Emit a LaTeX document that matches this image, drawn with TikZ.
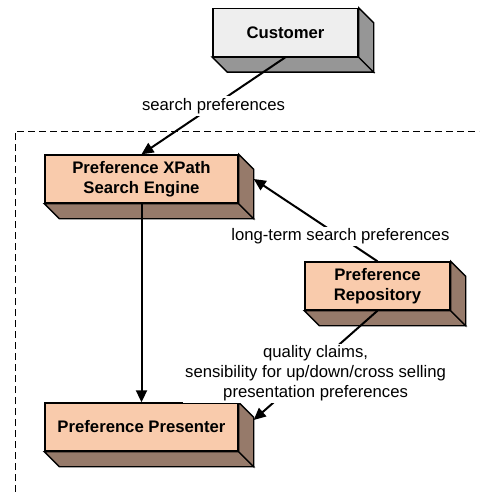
\documentclass[tikz,border=0pt]{standalone}
\usepackage{fontspec}
\setmainfont{Liberation Sans}
\usetikzlibrary{arrows.meta,calc}
\definecolor{salmon}{RGB}{249,203,172}
\definecolor{brownish}{RGB}{150,122,106}
\definecolor{lightgrey}{RGB}{238,238,238}
\definecolor{midgrey}{RGB}{150,150,150}
\tikzset{
  box/.style={draw, line width=0.7pt, fill=salmon, minimum width=96.5pt, minimum height=24pt, inner sep=0pt, align=center, font=\fontsize{8.35}{10}\selectfont\bfseries},
  flow/.style={-{Triangle[length=6pt,width=5.5pt]}, line width=1pt},
  lbl/.style={fill=white, inner sep=1pt, align=center}
}
\newcommand{\slab}[2]{%
  \draw[line width=0.7pt, fill=#2] (#1.south west) -- ++(7.5pt,-7.5pt) -- ($(#1.south east)+(7.5pt,-7.5pt)$) -- (#1.south east) -- cycle;
  \draw[line width=0.7pt, fill=#2] (#1.north east) -- ++(7.5pt,-7.5pt) -- ($(#1.south east)+(7.5pt,-7.5pt)$) -- (#1.south east) -- cycle;
}

\begin{document}
\begin{tikzpicture}[x=0.5pt,y=-0.5pt,font=\fontsize{8.35}{10}\selectfont]
    \useasboundingbox (0,0) rectangle (479,492);
    \draw[dash pattern=on 3.5pt off 2pt, line width=0.5pt] (15,492) -- (15,131) -- (479,131);

    \node[box, fill=lightgrey, minimum width=72.5pt] (cust) at (285.5,32.5) {Customer};
    \slab{cust}{midgrey}
    \node[box] (xpath) at (141.5,179) {Preference XPath\\Search Engine};
    \slab{xpath}{brownish}
    \node[box, minimum width=72.5pt] (repo) at (377.5,286) {Preference\\Repository};
    \slab{repo}{brownish}
    \node[box] (pres) at (141.5,427) {Preference Presenter};
    \slab{pres}{brownish}

    \draw[flow] (cust.south) -- node[lbl] {search preferences} (xpath.north);
    \draw[flow] (repo.north) -- node[lbl, pos=0.3] {long-term search preferences} ([xshift=7.5pt]xpath.east);
    \draw[flow] (xpath.south) -- (pres.north);
    \draw[flow] (repo.south) -- node[lbl, yshift=-4pt] {quality claims,\\sensibility for up/down/cross selling\\presentation preferences} ([xshift=7.5pt,yshift=3.5pt]pres.east);
\end{tikzpicture}
\end{document}
